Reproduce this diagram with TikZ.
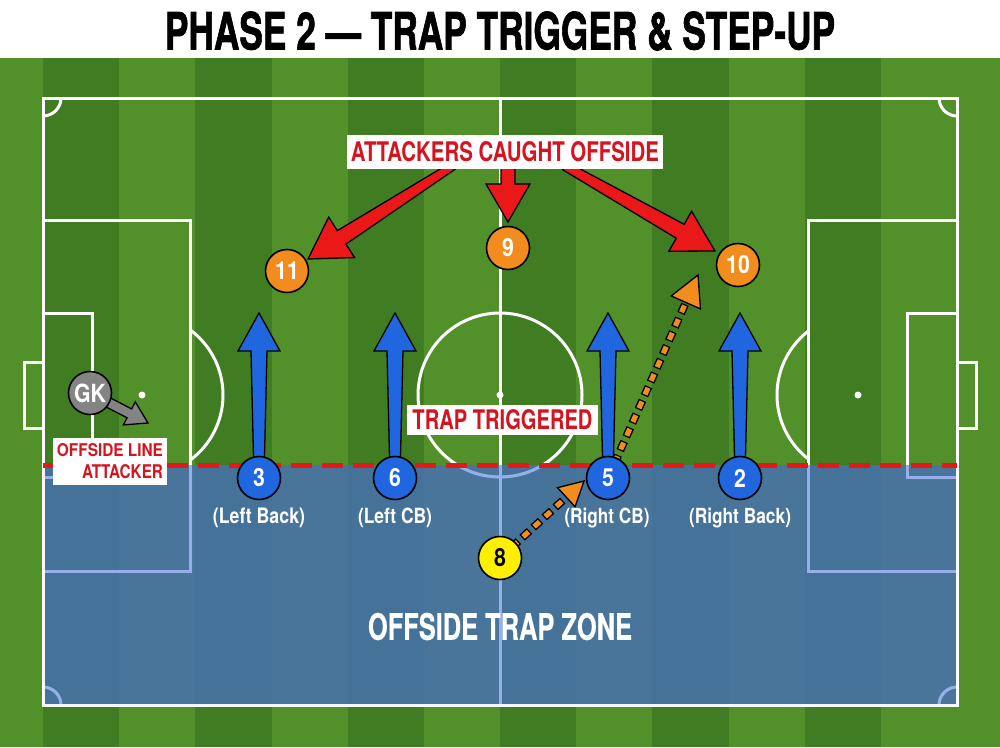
\documentclass[tikz,border=0pt]{standalone}
\usepackage{graphicx}
\usepackage{fontspec}
\setmainfont{TeX Gyre Heros}
\newfontfamily\hv{TeX Gyre Heros}
\newfontfamily\hvheavy[FakeBold=1.6]{TeX Gyre Heros}
\newfontfamily\hvmid[FakeBold=0.6]{TeX Gyre Heros}
\usetikzlibrary{calc}
\pgfdeclarelayer{pitch}
\pgfdeclarelayer{arrows}
\pgfsetlayers{pitch,arrows,main}

\definecolor{grassdark}{RGB}{64,124,34}
\definecolor{grasslight}{RGB}{82,144,42}
\definecolor{zonecol}{RGB}{70,112,178}
\definecolor{zoneline}{RGB}{150,175,235}
\definecolor{offred}{RGB}{228,24,24}
\definecolor{labelred}{RGB}{212,20,30}
\definecolor{porange}{RGB}{243,140,30}
\definecolor{pblue}{RGB}{32,102,222}
\definecolor{pyellow}{RGB}{255,240,0}
\definecolor{pgray}{RGB}{132,132,132}
\definecolor{arrred}{RGB}{235,24,24}

\newcommand\pn[1]{\scalebox{0.85}[1]{\fontsize{25}{25}\selectfont\bfseries #1}}

% direction and length between two points
\newcommand\getvec[2]{%
  \path let \p1=(#1), \p2=(#2) in
    \pgfextra{\pgfmathparse{atan2(\y2-\y1,\x2-\x1)}\xdef\FAang{\pgfmathresult}%
              \pgfmathparse{veclen(\x2-\x1,\y2-\y1)}\xdef\FAlen{\pgfmathresult}};}
% fat outlined arrow: from, to, half shaft start, half shaft end, half head, head length, fill
\newcommand\fatarrow[7]{%
  \getvec{#1}{#2}%
  \pgfmathsetmacro\FAbase{\FAlen-#6}%
  \begin{scope}[shift={(#1)},rotate=\FAang]
    \draw[arrowline,fill=#7] (0pt,-#3pt) -- (\FAbase pt,-#4pt) -- (\FAbase pt,-#5pt)
      -- (\FAlen pt,0pt) -- (\FAbase pt,#5pt) -- (\FAbase pt,#4pt) -- (0pt,#3pt) -- cycle;
  \end{scope}}
% arrow head only: from, to, half head, head length, fill
\newcommand\ahead[5]{%
  \getvec{#1}{#2}%
  \pgfmathsetmacro\FAbase{\FAlen-#4}%
  \begin{scope}[shift={(#1)},rotate=\FAang]
    \draw[arrowline,fill=#5] (\FAbase pt,-#3pt) -- (\FAlen pt,0pt) -- (\FAbase pt,#3pt) -- cycle;
  \end{scope}}
% dashed outlined arrow: from, to, half head, head length
\newcommand\dasharrow[4]{%
  \draw[black, line width=8pt, dash pattern=on 10pt off 5pt, shorten >=#4pt] (#1) -- (#2);
  \draw[porange, line width=5.2pt, dash pattern=on 7.4pt off 7.6pt, dash phase=13.7pt, shorten >=#4pt] (#1) -- (#2);
  \ahead{#1}{#2}{#3}{#4}{porange}}

\newcommand\pitchlines[1]{%
  \draw[#1] (43,98) rectangle (957,705);
  \draw[#1] (500,98) -- (500,705);
  \draw[#1] (500,395) circle[radius=82];
  \draw[#1] (43,220) rectangle (190,571);
  \draw[#1] (957,220) rectangle (808,571);
  \draw[#1] (43,313) rectangle (92,477);
  \draw[#1] (957,313) rectangle (907,477);
  \draw[#1] (43,362) rectangle (24,428);
  \draw[#1] (957,362) rectangle (976,428);
  \begin{scope}\clip (190,0) rectangle (400,747);\draw[#1] (142,395) circle[radius=81];\end{scope}
  \begin{scope}\clip (600,0) rectangle (808,747);\draw[#1] (858,395) circle[radius=81];\end{scope}
  \begin{scope}\clip (43,98) rectangle (957,705);
    \draw[#1] (43,98) circle[radius=18];
    \draw[#1] (957,98) circle[radius=18];
    \draw[#1] (43,705) circle[radius=18];
    \draw[#1] (957,705) circle[radius=18];
  \end{scope}}

\begin{document}
\begin{tikzpicture}[x=1pt,y=-1pt,
  pl/.style={white, line width=3pt},
  zl/.style={zoneline, line width=3pt},
  player/.style={circle, draw=black, line width=1.6pt, minimum size=43pt, inner sep=0pt, text=white},
  arrowline/.style={draw=black, line width=1.3pt, line join=miter},
  redlabel/.style={fill=white, text=labelred, inner sep=0pt},
  poslabel/.style={text=white, inner sep=0pt, anchor=base},
]
\useasboundingbox (0,0) rectangle (1000,747);

% ---------- pitch ----------
\begin{pgfonlayer}{pitch}
  \fill[white] (0,0) rectangle (1000,58);
  \fill[grasslight] (0,58) rectangle (1000,747);
  \foreach \k in {0,2,...,10}
    \fill[grassdark] ({43+\k*76.17},58) rectangle ({43+(\k+1)*76.17},747);
  \pitchlines{pl}
  \fill[white] (500,395) circle[radius=3.5];
  \fill[white] (142,395) circle[radius=3.5];
  \fill[white] (858,395) circle[radius=3.5];
  % offside trap zone
  \fill[zonecol, opacity=0.82] (43,465) rectangle (957,705);
  \begin{scope}
    \clip (43,465) rectangle (957,705);
    \pitchlines{zl}
  \end{scope}
  \draw[white, line width=3pt, opacity=0.9] (43,466) -- (43,705) -- (957,705) -- (957,466);
  % offside line
  \coordinate (ol1) at (43,465);
  \coordinate (ol2) at (957,465);
  \draw[offred, line width=5pt, dash pattern=on 21pt off 10pt] (ol1) -- (ol2);
\end{pgfonlayer}

% ---------- title ----------
\node[inner sep=0pt] (title) at (500,31)
  {\resizebox{670pt}{38pt}{\hvheavy\bfseries PHASE 2 — TRAP TRIGGER \& STEP-UP}};

% ---------- labels ----------
\node[redlabel, inner xsep=4pt, inner ysep=6.5pt] (lab) at (505,152)
  {\resizebox{308pt}{20pt}{\hv\bfseries ATTACKERS CAUGHT OFFSIDE}};
\node[redlabel, inner xsep=5.5pt, inner ysep=5pt] (trig) at (502.5,420)
  {\resizebox{180pt}{20pt}{\hv\bfseries TRAP TRIGGERED}};
\node[redlabel, align=right, inner xsep=4pt, inner ysep=6pt, font=\fontsize{13}{22}\selectfont] (olab) at (110,461.5)
  {\resizebox{106pt}{13pt}{\hv\bfseries OFFSIDE LINE}\\\resizebox{81pt}{14pt}{\hv\bfseries ATTACKER}};
\node[text=white, inner sep=0pt] (zone) at (500,626.5)
  {\resizebox{264pt}{27pt}{\hvmid\bfseries OFFSIDE TRAP ZONE}};

% ---------- players ----------
\node[player, fill=porange] (n11) at (287,271) {\pn{11}};
\node[player, fill=porange] (n9)  at (508,248) {\pn{9}};
\node[player, fill=porange] (n10) at (738,265) {\pn{10}};
\node[player, fill=pblue] (n3) at (259,478) {\pn{3}};
\node[player, fill=pblue] (n6) at (395,478) {\pn{6}};
\node[player, fill=pblue] (n5) at (608,478) {\pn{5}};
\node[player, fill=pblue] (n2) at (740,478) {\pn{2}};
\node[player, fill=pyellow, text=black] (n8) at (500,558) {\pn{8}};
\node[player, fill=pgray] (gk) at (90,393) {\pn{GK}};

\node[poslabel] (p3) at (259,523) {\resizebox{92pt}{15.5pt}{\hv\bfseries (Left Back)}};
\node[poslabel] (p6) at (395,523) {\resizebox{74pt}{15.5pt}{\hv\bfseries (Left CB)}};
\node[poslabel] (p5) at (607,523) {\resizebox{85pt}{15.5pt}{\hv\bfseries (Right CB)}};
\node[poslabel] (p2) at (740,523) {\resizebox{102pt}{15.5pt}{\hv\bfseries (Right Back)}};

% ---------- arrow end points ----------
\coordinate (t3) at (259,313);
\coordinate (t6) at (395,313);
\coordinate (t5) at (608,313);
\coordinate (t2) at (740,313);
\coordinate (s11) at ([xshift=-52pt,yshift=3pt]lab.south);
\coordinate (s9)  at ([xshift=3pt,yshift=3pt]lab.south);
\coordinate (s10) at ([xshift=60pt,yshift=3pt]lab.south);
\coordinate (a11) at (308,259);
\coordinate (a9)  at (508,222);
\coordinate (a10) at (715,251);
\coordinate (g1) at (148,423);
\coordinate (o5) at (584,481);
\coordinate (o10) at (698,275);

\begin{pgfonlayer}{arrows}
  % step-up arrows
  \fatarrow{n3.center}{t3}{5}{8}{21}{38}{pblue}
  \fatarrow{n6.center}{t6}{5}{8}{21}{38}{pblue}
  \fatarrow{n5.center}{t5}{5}{8}{21}{38}{pblue}
  \fatarrow{n2.center}{t2}{5}{8}{21}{38}{pblue}
  % caught offside arrows
  \fatarrow{s11}{a11}{4}{8}{24}{40}{arrred}
  \fatarrow{s9}{a9}{7}{7}{22}{38}{arrred}
  \fatarrow{s10}{a10}{4.5}{8}{23}{40}{arrred}
  % keeper
  \fatarrow{gk.center}{g1}{5}{5}{13}{21}{pgray}
  % dashed runs
  \dasharrow{n8.center}{o5}{13}{24}
  \dasharrow{n5.center}{o10}{16}{30}
\end{pgfonlayer}
\end{tikzpicture}
\end{document}
